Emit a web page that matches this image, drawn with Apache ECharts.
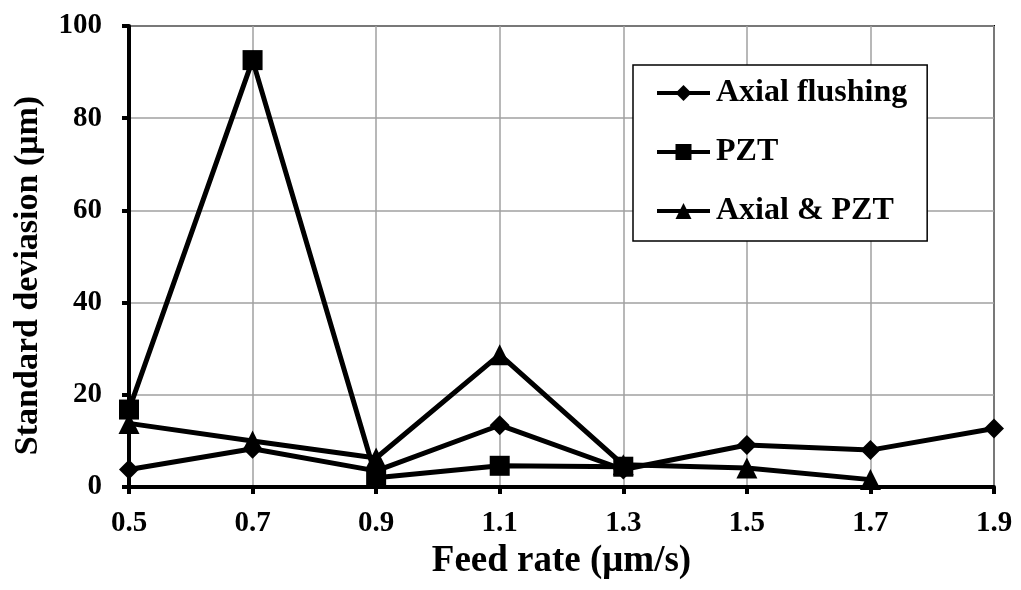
<!DOCTYPE html>
<html>
<head>
<meta charset="utf-8">
<script src="https://cdn.jsdelivr.net/npm/echarts@6/dist/echarts.min.js"></script>
<style>
  html, body { margin: 0; padding: 0; background: #fff; }
  #chart { width: 1021px; height: 590px; }
</style>
</head>
<body>
<div id="chart"></div>
<script>
  // feed rate categories (um/s)
  var feedRates = ['0.5', '0.7', '0.9', '1.1', '1.3', '1.5', '1.7', '1.9']
  // standard deviation (um)
  var axialFlushing = [3.8, 8.3, 3.5, 13.4, 3.8, 9.1, 8.0, 12.7]
  var pzt = [16.8, 92.6, 2.0, 4.6, 4.4]
  var axialPzt = [13.8, 10.0, 6.3, 28.7, 4.8, 4.1, 1.6]

  var font = 'Liberation Serif'

  var myChart = echarts.init(document.getElementById('chart'))

  function lineSeries(name, data, symbol, size) {
    return {
      name: name,
      type: 'line',
      data: data,
      symbol: symbol,
      symbolSize: size,
      showAllSymbol: true,
      lineStyle: { color: '#000', width: 5 },
      itemStyle: { color: '#000', borderWidth: 0 },
      emphasis: { disabled: true },
      animation: false
    }
  }

  myChart.setOption({
    animation: false,
    grid: {
      left: 129,
      right: 27,
      top: 26,
      bottom: 103,
      show: true,
      borderColor: '#000',
      borderWidth: 2
    },
    legend: {
      orient: 'vertical',
      left: 633,
      top: 65,
      width: 293,
      height: 177,
      padding: [12, 20, 14, 22],
      itemGap: 27,
      itemWidth: 53,
      itemHeight: 20,
      backgroundColor: '#fff',
      borderColor: '#000',
      borderWidth: 1.5,
      lineStyle: { width: 4 },
      textStyle: {
        fontFamily: font,
        fontWeight: 'bold',
        fontSize: 32,
        color: '#000',
        padding: [0, 0, 0, 1]
      },
      data: ['Axial flushing', 'PZT', 'Axial & PZT']
    },
    xAxis: {
      type: 'category',
      data: feedRates,
      boundaryGap: false,
      name: 'Feed rate (\u03bcm/s)',
      nameLocation: 'middle',
      nameGap: 50,
      nameTextStyle: { fontFamily: font, fontWeight: 'bold', fontSize: 37, color: '#000' },
      axisLine: { lineStyle: { color: '#000', width: 4 } },
      axisTick: { show: true, length: 7, lineStyle: { color: '#000', width: 4 } },
      axisLabel: { fontFamily: font, fontWeight: 'bold', fontSize: 29, color: '#000', margin: 22 },
      splitLine: { show: true, lineStyle: { color: '#a0a0a0', width: 1.5 } }
    },
    yAxis: {
      type: 'value',
      min: 0,
      max: 100,
      interval: 20,
      name: 'Standard deviasion (\u03bcm)',
      nameLocation: 'middle',
      nameGap: 84,
      nameRotate: 90,
      nameTextStyle: {
        fontFamily: font, fontWeight: 'bold', fontSize: 34, color: '#000',
        padding: [0, 38, 0, 0]
      },
      axisLine: { show: true, lineStyle: { color: '#000', width: 4 } },
      axisTick: { show: true, length: 7, lineStyle: { color: '#000', width: 4 } },
      axisLabel: { fontFamily: font, fontWeight: 'bold', fontSize: 29, color: '#000', margin: 27 },
      splitLine: { show: true, lineStyle: { color: '#a0a0a0', width: 1.5 } }
    },
    series: [
      lineSeries('Axial flushing', axialFlushing, 'diamond', 20),
      lineSeries('PZT', pzt, 'rect', 20),
      lineSeries('Axial & PZT', axialPzt, 'triangle', 21)
    ]
  })
</script>
</body>
</html>
